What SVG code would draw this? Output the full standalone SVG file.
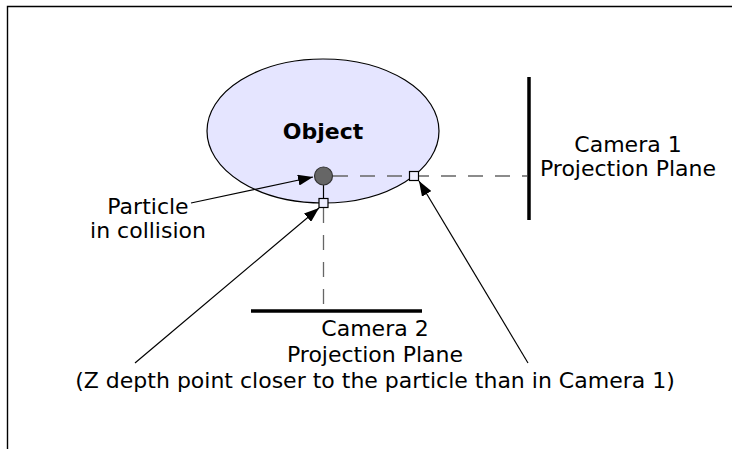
<svg xmlns="http://www.w3.org/2000/svg" width="732" height="449" viewBox="0 0 732 449">
  <style>
    .lbl { font-family: "DejaVu Sans", "Liberation Sans", sans-serif; font-size: 22px; fill: #000; text-anchor: middle; }
    .bold { font-weight: bold; }
    .plane { stroke: #000; stroke-width: 3.5; fill: none; }
    .dash { stroke: #666; stroke-width: 1.3; stroke-dasharray: 15 12; fill: none; }
    .arrow { stroke: #000; stroke-width: 1.2; fill: none; marker-end: url(#head); }
    .pt { fill: #eeeeff; stroke: #000; stroke-width: 1.2; }
  </style>
  <defs>
    <marker id="head" markerUnits="userSpaceOnUse" markerWidth="15" markerHeight="11" viewBox="0 0 15 11" refX="15" refY="5.5" orient="auto">
      <path d="M0,0 L15,5.5 L0,11 z" fill="#000"/>
    </marker>
  </defs>

  <!-- frame -->
  <path d="M7.5,449 V6.5 H732" fill="none" stroke="#000" stroke-width="1.4"/>

  <g id="object">
    <ellipse cx="323" cy="131" rx="116" ry="72" fill="#e5e5ff" stroke="#000" stroke-width="1.2"/>
    <text class="lbl bold" x="323" y="139">Object</text>
  </g>

  <g id="camera1-plane">
    <line class="plane" x1="529" y1="77" x2="529" y2="220"/>
    <text class="lbl" x="628" y="152">Camera 1</text>
    <text class="lbl" x="628" y="176">Projection Plane</text>
  </g>

  <g id="camera2-plane">
    <line class="plane" x1="251" y1="311" x2="422" y2="311"/>
    <text class="lbl" x="375" y="336">Camera 2</text>
    <text class="lbl" x="375" y="362">Projection Plane</text>
    <text class="lbl" x="375" y="388">(Z depth point closer to the particle than in Camera 1)</text>
  </g>

  <g id="particle-label">
    <text class="lbl" x="148" y="214">Particle</text>
    <text class="lbl" x="148" y="238">in collision</text>
  </g>

  <g id="connectors">
    <line class="dash" x1="333" y1="176" x2="527" y2="176"/>
    <line class="dash" x1="323.5" y1="208" x2="323.5" y2="309"/>
    <line x1="323.5" y1="185" x2="323.5" y2="199" stroke="#000" stroke-width="1.2"/>
    <line class="arrow" x1="191" y1="203" x2="313" y2="177"/>
    <line class="arrow" x1="135" y1="363" x2="319" y2="208"/>
    <line class="arrow" x1="528" y1="363" x2="419" y2="181"/>
  </g>

  <g id="particle">
    <circle cx="323.5" cy="176" r="9" fill="#666" stroke="#333" stroke-width="1.2"/>
  </g>
  <g id="z-point-camera2">
    <rect class="pt" x="319" y="198.5" width="9" height="9"/>
  </g>
  <g id="z-point-camera1">
    <rect class="pt" x="409.5" y="171.5" width="9" height="9"/>
  </g>
</svg>
